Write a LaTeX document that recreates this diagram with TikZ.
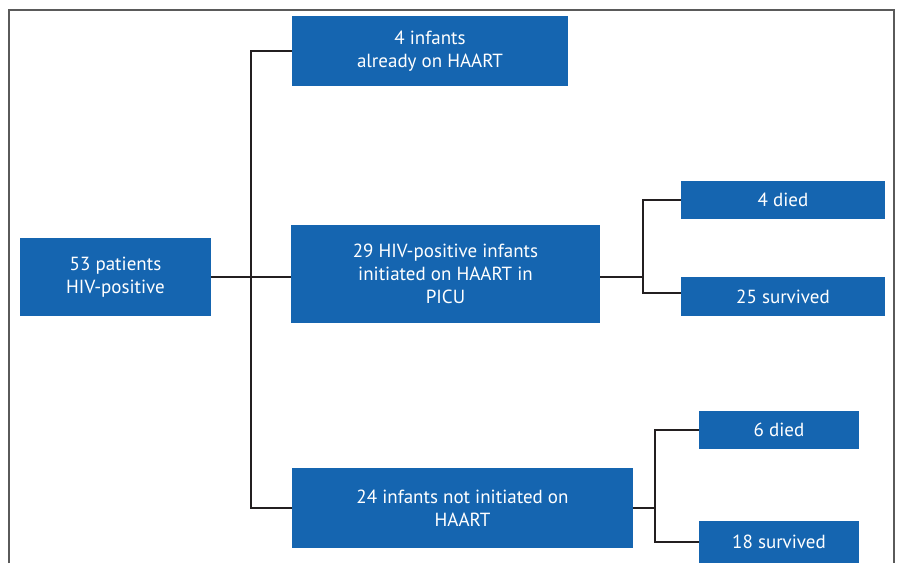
\documentclass[tikz,border=0pt]{standalone}
\usepackage{fontspec}
\setmainfont{PT Sans}
\definecolor{boxblue}{RGB}{21,101,176}
\definecolor{linegray}{RGB}{35,31,32}
\definecolor{framegray}{RGB}{90,90,90}
\begin{document}
\begin{tikzpicture}[x=1pt,y=-1pt,
  bx/.style={fill=boxblue,draw=none,text=white,inner sep=0pt,align=center,
    font=\fontsize{19}{23}\selectfont},
  conn/.style={draw=linegray,line width=1.8pt}]
\useasboundingbox (0,0) rectangle (903,563);
\draw[framegray,line width=1.5pt] (9,563) -- (9,10) -- (894,10) -- (894,563);
\node[bx,minimum width=191pt,minimum height=78pt] (A) at (115.5,277) {53 patients\\HIV-positive};
\node[bx,minimum width=276pt,minimum height=70pt] (B) at (430,51) {4 infants\\already on HAART};
\node[bx,minimum width=309pt,minimum height=98pt] (C) at (445.5,274) {29 HIV-positive infants\\initiated on HAART in\\PICU};
\node[bx,minimum width=341pt,minimum height=80pt] (D) at (462.5,508) {24 infants not initiated on\\HAART};
\node[bx,minimum width=204pt,minimum height=38pt] (E) at (783,200) {4 died};
\node[bx,minimum width=204pt,minimum height=39pt] (F) at (783,296.5) {25 survived};
\node[bx,minimum width=160pt,minimum height=38pt] (G) at (779,430) {6 died};
\node[bx,minimum width=160pt,minimum height=42pt] (H) at (779,542) {18 survived};
\coordinate (j1) at (251,277);
\coordinate (j2) at (643,277);
\coordinate (j3) at (655,508);
\draw[conn] (A.east) -- (C.west |- A.east);
\draw[conn] (B.west) -| (j1) |- (D.west);
\draw[conn] (C.east |- j2) -- (j2);
\draw[conn] (E.west) -| (j2) |- ([yshift=3.5pt]F.west);
\draw[conn] (D.east) -- (j3);
\draw[conn] (G.west) -| (j3) |- (H.west);
\end{tikzpicture}
\end{document}
